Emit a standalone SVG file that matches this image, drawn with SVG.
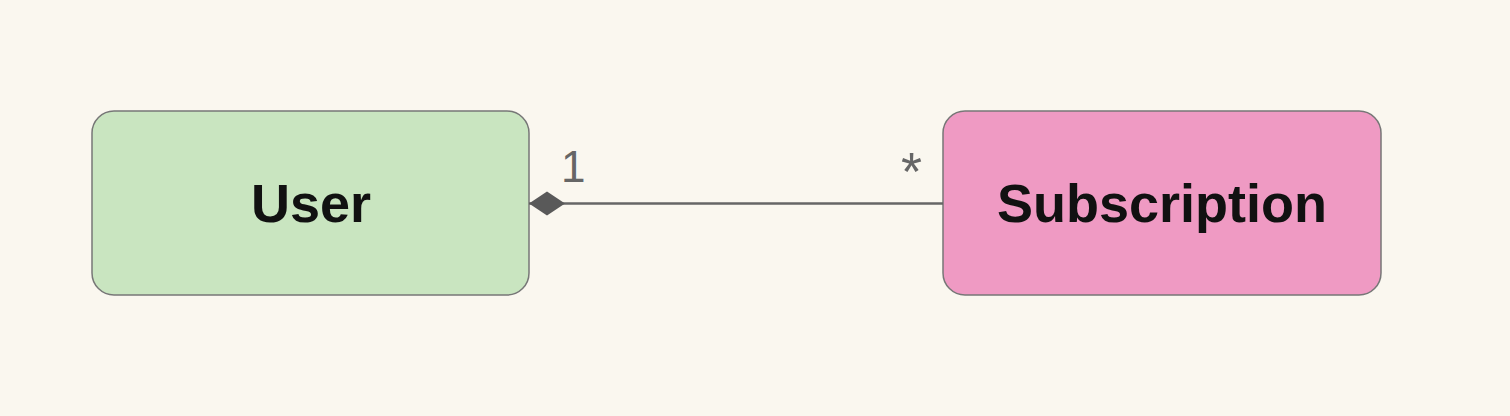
<svg xmlns="http://www.w3.org/2000/svg" width="1510" height="416" viewBox="0 0 1510 416">
<style>
.node{stroke:#777;stroke-width:1.5}
.title{font-family:"Liberation Sans",Arial,sans-serif;font-size:54px;font-weight:bold;fill:#111;text-anchor:middle}
.mult{font-family:"Liberation Sans",Arial,sans-serif;font-size:44px;fill:#666}
.edge{stroke:#666;stroke-width:2.5;fill:none}
</style>
<defs>
<marker id="diamond" markerUnits="userSpaceOnUse" markerWidth="40" markerHeight="30" refX="1" refY="14" orient="auto">
<path d="M1,14 L19,2 L37,14 L19,26 Z" fill="#595959"/>
</marker>
</defs>
<rect width="1510" height="416" fill="#faf7ef"/>
<g id="node-user">
<rect class="node" x="92" y="111" width="437" height="184" rx="22" fill="#c9e5c0"/>
<text class="title" x="311" y="222">User</text>
</g>
<g id="node-subscription">
<rect class="node" x="943" y="111" width="438" height="184" rx="22" fill="#ef9ac3"/>
<text class="title" x="1162" y="222">Subscription</text>
</g>
<g id="connectors">
<path class="edge" d="M529,203.5 L943,203.5" marker-start="url(#diamond)"/>
<text class="mult" x="561" y="182">1</text>
<text class="mult" x="901" y="190" style="font-size:54px">*</text>
</g>
</svg>
